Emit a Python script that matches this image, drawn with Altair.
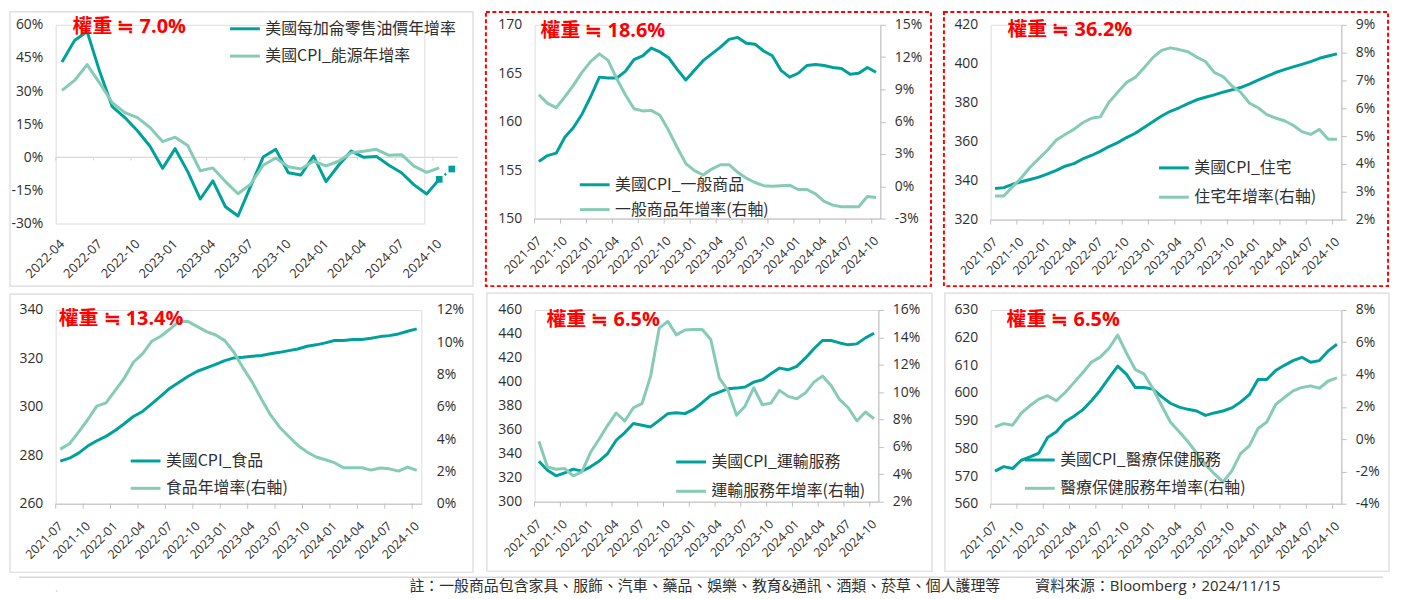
import json
import altair as alt
import pandas as pd

# ---------------- colours / fonts ----------------
DARK = "#00A19A"
LIGHT = "#86CBB6"
INK = "#2e2e2e"
RED = "#FF0000"
PANEL_LINE = "#D9D9D9"
AXIS_LINE = "#BFBFBF"
LATIN = "Open Sans, Noto Sans CJK TC"
CJK = "Noto Sans CJK TC, Open Sans"

# ---------------- data ----------------
months_gas = [p.strftime("%Y-%m") for p in pd.period_range("2022-04", "2024-11", freq="M")]
months_cpi = [p.strftime("%Y-%m") for p in pd.period_range("2021-07", "2024-10", freq="M")]

# Panel 1: gasoline retail price YoY vs CPI energy YoY (%)
gas_name = "美國每加侖零售油價年增率"
energy_name = "美國CPI_能源年增率"
gas_yoy = [43.2, 52.9, 57.0, 38.8, 22.9, 18.0, 12.0, 5.0, -5.0, 3.9, -6.5, -18.9, -10.7, -22.4,
           -26.6, -13.2, 0.1, 3.6, -7.0, -8.0, 0.6, -11.0, -3.6, 2.8, 0.0, 0.4, -3.6, -7.0,
           -12.5, -16.6, -10.0]
energy_yoy = [30.3, 34.8, 42.0, 33.6, 24.7, 20.2, 18.0, 13.5, 7.1, 9.1, 5.3, -6.1, -4.8, -11.0,
              -16.5, -12.2, -3.6, -0.3, -4.3, -5.3, -1.8, -3.9, -1.8, 2.1, 2.7, 3.6, 0.9, 1.2,
              -4.0, -6.8, -4.8]
gas_latest_months = ["2024-10", "2024-11"]
gas_latest = [-10.0, -5.3]

# Panel 2: general goods
goods_name = "美國CPI_一般商品"
goods_yoy_name = "一般商品年增率(右軸)"
goods_cpi = [155.9, 156.5, 156.75, 158.4, 159.4, 160.8, 162.6, 164.6, 164.5, 164.5, 165.2, 166.4,
             166.8, 167.6, 167.2, 166.6, 165.4, 164.3, 165.3, 166.3, 167.0, 167.7, 168.5, 168.7,
             168.1, 168.0, 167.3, 166.8, 165.3, 164.6, 165.0, 165.8, 165.9, 165.8, 165.6, 165.5,
             164.9, 165.0, 165.6, 165.1]
goods_yoy = [8.5, 7.7, 7.3, 8.3, 9.4, 10.6, 11.6, 12.3, 11.7, 10.0, 8.5, 7.2, 7.0, 7.05, 6.6, 5.2,
             3.6, 2.1, 1.45, 1.05, 1.6, 2.0, 2.0, 1.3, 0.75, 0.35, 0.05, 0.0, 0.05, 0.1, -0.3, -0.3,
             -0.7, -1.4, -1.75, -1.9, -1.9, -1.9, -0.95, -1.05]

# Panel 3: housing
house_name = "美國CPI_住宅"
house_yoy_name = "住宅年增率(右軸)"
house_cpi = [335.9, 336.4, 338.1, 339.4, 340.6, 341.8, 343.5, 345.3, 347.4, 348.7, 351.1, 352.9,
             355.0, 357.5, 359.5, 362.1, 364.3, 367.3, 370.2, 373.2, 375.6, 377.4, 379.5, 381.5,
             382.8, 384.0, 385.4, 386.6, 387.8, 389.6, 391.6, 393.5, 395.5, 397.0, 398.4, 399.7,
             401.1, 402.8, 404.0, 405.1]
house_yoy = [2.85, 2.85, 3.18, 3.5, 3.88, 4.19, 4.5, 4.86, 5.06, 5.24, 5.48, 5.64, 5.69, 6.22, 6.58,
             6.93, 7.11, 7.46, 7.82, 8.08, 8.17, 8.11, 8.03, 7.84, 7.68, 7.29, 7.14, 6.81, 6.58,
             6.19, 6.02, 5.77, 5.65, 5.55, 5.39, 5.16, 5.06, 5.24, 4.89, 4.89]

# Panel 4: food
food_name = "美國CPI_食品"
food_yoy_name = "食品年增率(右軸)"
food_cpi = [277.6, 278.8, 280.9, 283.8, 286.0, 287.8, 290.2, 293.0, 296.0, 298.1, 301.2, 304.4,
            307.7, 310.2, 312.6, 314.7, 316.1, 317.5, 319.1, 320.2, 320.5, 320.9, 321.2, 321.9,
            322.5, 323.2, 323.9, 325.0, 325.6, 326.4, 327.4, 327.4, 327.8, 327.8, 328.3, 329.0,
            329.4, 330.1, 331.2, 332.2]
food_yoy = [3.38, 3.71, 4.43, 5.2, 6.04, 6.25, 7.01, 7.77, 8.76, 9.28, 10.06, 10.37, 10.82, 11.3,
            11.28, 10.97, 10.66, 10.45, 10.1, 9.38, 8.41, 7.53, 6.49, 5.5, 4.74, 4.16, 3.61, 3.2,
            2.89, 2.72, 2.54, 2.23, 2.23, 2.23, 2.08, 2.21, 2.16, 2.02, 2.27, 2.06]

# Panel 5: transportation services
trans_name = "美國CPI_運輸服務"
trans_yoy_name = "運輸服務年增率(右軸)"
trans_cpi = [333.8, 326.3, 321.6, 324.1, 327.2, 325.5, 329.1, 333.8, 340.2, 351.3, 357.7, 365.2,
             363.8, 362.4, 367.9, 373.5, 374.3, 373.5, 377.1, 382.6, 388.7, 391.5, 394.3, 394.8,
             395.7, 399.8, 401.8, 406.8, 411.5, 410.1, 412.9, 419.8, 427.6, 434.5, 434.5, 432.5,
             430.9, 431.7, 436.7, 440.6]
trans_yoy = [6.41, 4.54, 4.37, 4.42, 3.89, 4.18, 5.59, 6.56, 7.58, 8.48, 7.89, 8.86, 9.16, 11.17,
             14.67, 15.17, 14.18, 14.54, 14.57, 14.57, 13.84, 11.02, 10.13, 8.31, 8.99, 10.32, 9.08,
             9.2, 10.13, 9.69, 9.52, 9.93, 10.73, 11.17, 10.49, 9.45, 8.86, 7.89, 8.55, 8.06]

# Panel 6: medical care services
med_name = "美國CPI_醫療保健服務"
med_yoy_name = "醫療保健服務年增率(右軸)"
med_cpi = [571.8, 573.4, 572.7, 575.7, 576.9, 578.3, 583.9, 586.0, 589.6, 591.6, 593.9, 597.2,
           601.0, 605.5, 609.7, 606.7, 602.0, 602.0, 601.4, 598.7, 596.3, 594.9, 594.1, 593.5,
           591.9, 592.8, 593.5, 594.6, 596.7, 599.4, 604.9, 604.9, 608.1, 610.0, 611.7, 612.9,
           611.1, 611.7, 615.2, 617.6]
med_yoy = [0.76, 0.96, 0.86, 1.61, 2.08, 2.48, 2.69, 2.38, 2.89, 3.5, 4.11, 4.77, 5.08, 5.63, 6.44,
           5.32, 4.31, 4.04, 3.13, 2.08, 1.06, 0.45, -0.15, -0.86, -1.57, -2.14, -2.65, -1.98, -0.9,
           -0.42, 0.66, 1.06, 2.14, 2.58, 2.99, 3.2, 3.3, 3.15, 3.6, 3.8]

weights = ["權重 ≒ 7.0%", "權重 ≒ 18.6%", "權重 ≒ 36.2%", "權重 ≒ 13.4%", "權重 ≒ 6.5%", "權重 ≒ 6.5%"]
note_text = "註：一般商品包含家具、服飾、汽車、藥品、娛樂、教育&通訊、酒類、菸草、個人護理等"
source_text = "資料來源：Bloomberg，2024/11/15"


# ---------------- helpers ----------------
def series_frame(months, values, name):
    return pd.DataFrame({"month": months[:len(values)],
                         "slot": [i + 0.5 for i in range(len(values))],
                         "value": values,
                         "series": name})


def x_enc(months, plot_w, show_line, label_pad, font_size, label_shift=0.5):
    n = len(months)
    vals = [i + label_shift for i in range(0, n, 3)]
    expr = json.dumps(months) + "[round(datum.value - %s)]" % label_shift
    return alt.X(
        "slot:Q",
        scale=alt.Scale(domain=[0, n], range=[0, plot_w], nice=False, zero=False),
        axis=alt.Axis(
            values=vals, labelExpr=expr,
            labelAngle=-45, labelAlign="right", labelBaseline="middle",
            labelFont=LATIN, labelFontSize=font_size, labelColor=INK,
            labelPadding=label_pad, labelOverlap=False, labelFlush=False,
            domain=show_line, domainColor=AXIS_LINE, domainWidth=1,
            ticks=False, tickSize=0,
            grid=False, title=None,
        ),
    )


def y_enc(domain, values, orient, pct, show_line, label_pad):
    ax = dict(orient=orient, values=values, labelFont=LATIN, labelFontSize=14, labelColor=INK,
              labelPadding=label_pad, domain=show_line, domainColor=AXIS_LINE,
              ticks=show_line, tickColor=AXIS_LINE, tickSize=5 if show_line else 0,
              grid=False, title=None, labelOverlap=False)
    if pct:
        ax["labelExpr"] = "datum.value + '%'"
    else:
        ax["format"] = "d"
    return alt.Y("value:Q", scale=alt.Scale(domain=domain, nice=False, zero=False),
                 axis=alt.Axis(**ax))


def color_enc(names, lx, ly, row_pad):
    return alt.Color(
        "series:N",
        scale=alt.Scale(domain=names, range=[DARK, LIGHT]),
        legend=alt.Legend(orient="none", legendX=lx, legendY=ly, title=None,
                          symbolType="stroke", symbolSize=900, symbolStrokeWidth=3,
                          labelFont=CJK, labelFontSize=16, labelColor=INK, labelLimit=400,
                          labelOffset=4, rowPadding=row_pad, padding=0, direction="vertical"),
    )


def frame(x0, x1, y0, y1, red):
    kw = dict(fill="white", fillOpacity=0, stroke=RED if red else PANEL_LINE,
              strokeWidth=2 if red else 1.2)
    if red:
        kw["strokeDash"] = [4, 2.5]
    return alt.Chart(alt.Data(values=[{"k": 1}])).mark_rect(**kw).encode(
        x=alt.value(x0), x2=alt.value(x1), y=alt.value(y0), y2=alt.value(y1))


def weight_label(text, x, y):
    return alt.Chart(alt.Data(values=[{"t": text}])).mark_text(
        align="left", baseline="middle", font=LATIN, fontSize=20, fontWeight="bold", color=RED
    ).encode(x=alt.value(x), y=alt.value(y), text="t:N")


def quarter_ticks(months, axis_y, x_e):
    """Small tick marks on the category axis line at every third month boundary."""
    df = pd.DataFrame({"slot": list(range(0, len(months), 3))})
    return alt.Chart(df).mark_rule(color=AXIS_LINE, strokeWidth=1).encode(
        x=x_e, y=alt.value(axis_y), y2=alt.value(axis_y + 5))


def dual_panel(months, names, dark_vals, light_vals, left_dom, left_vals, right_dom, right_vals,
               width, height, box, red, title, title_xy, leg, right_line=True):
    xe = x_enc(months, width, True, 20, 12.5)
    ce = color_enc(names, *leg)
    dark = alt.Chart(series_frame(months, dark_vals, names[0])).mark_line(
        strokeWidth=3, strokeJoin="round").encode(
        x=xe, y=y_enc(left_dom, left_vals, "left", False, False, 13), color=ce)
    light = alt.Chart(series_frame(months, light_vals, names[1])).mark_line(
        strokeWidth=3, strokeJoin="round").encode(
        x=xe, y=y_enc(right_dom, right_vals, "right", True, right_line,
                      9 if right_line else 15), color=ce)
    ticks = quarter_ticks(months, height, xe)
    return alt.layer(frame(*box, red), ticks, dark, light,
                     weight_label(title, *title_xy)).resolve_scale(
        y="independent").properties(width=width, height=height)


# ---------------- panel 1 ----------------
P1_W, P1_RANGE, P1_H = 371, 405, 200
x1 = x_enc(months_gas, P1_RANGE, False, 18, 13)
c1 = color_enc([gas_name, energy_name], 174, -12.5, 2.5)
y1 = y_enc([-30, 60], [-30, -15, 0, 15, 30, 45, 60], "left", True, False, 13)

zero_line = alt.Chart(alt.Data(values=[{"slot": 0, "slot_end": len(months_gas), "value": 0}])).mark_rule(
    color=PANEL_LINE, strokeWidth=1.2).encode(x=x1, x2="slot_end:Q", y=y1)
tick_df = pd.DataFrame({"slot": list(range(0, len(months_gas), 3)), "value": 0.0, "low": -1.4})
zero_ticks = alt.Chart(tick_df).mark_rule(color=PANEL_LINE, strokeWidth=1.2).encode(
    x=x1, y=y1, y2="low:Q")
gas_line = alt.Chart(series_frame(months_gas, gas_yoy, gas_name)).mark_line(
    strokeWidth=3, strokeJoin="round").encode(x=x1, y=y1, color=c1)
energy_line = alt.Chart(series_frame(months_gas, energy_yoy, energy_name)).mark_line(
    strokeWidth=3, strokeJoin="round").encode(x=x1, y=y1, color=c1)
latest_df = pd.DataFrame({"slot": [months_gas.index(m) + 0.5 for m in gas_latest_months],
                          "value": gas_latest})
latest_link = alt.Chart(latest_df).mark_line(color=DARK, strokeWidth=2.5, strokeDash=[2, 5]).encode(
    x=x1, y=y1)
latest_pts = alt.Chart(latest_df).mark_point(shape="square", filled=True, size=45, color=DARK,
                                             opacity=1).encode(x=x1, y=y1)
p1 = alt.layer(frame(-46, 420, -13, 263, False), zero_line, zero_ticks, gas_line, energy_line,
               latest_link, latest_pts, weight_label(weights[0], 17, 2)).properties(
    width=P1_W, height=P1_H)

# ---------------- panels 2-6 ----------------
p2 = dual_panel(months_cpi, [goods_name, goods_yoy_name], goods_cpi, goods_yoy,
                [150, 170], [150, 155, 160, 165, 170], [-3, 15], [-3, 0, 3, 6, 9, 12, 15],
                348, 195, (-49, 399, -13, 263), True, weights[1], (6, 6), (44, 144.5, 0))
p3 = dual_panel(months_cpi, [house_name, house_yoy_name], house_cpi, house_yoy,
                [320, 420], [320, 340, 360, 380, 400, 420], [2, 9], [2, 3, 4, 5, 6, 7, 8, 9],
                353, 196, (-47, 400, -13, 263), True, weights[2], (17, 5), (168, 127.5, 4.5))
p4 = dual_panel(months_cpi, [food_name, food_yoy_name], food_cpi, food_yoy,
                [260, 340], [260, 280, 300, 320, 340], [0, 12], [0, 2, 4, 6, 8, 10, 12],
                368, 195, (-46, 420, -16, 264), False, weights[3], (3, 9), (74, 135.5, 2.5),
                right_line=False)
p5 = dual_panel(months_cpi, [trans_name, trans_yoy_name], trans_cpi, trans_yoy,
                [300, 460], [300, 320, 340, 360, 380, 400, 420, 440, 460], [2, 16],
                [2, 4, 6, 8, 10, 12, 14, 16],
                346, 193, (-48, 400, -17, 263), False, weights[4], (12, 10), (141, 136.5, 4.5))
p6 = dual_panel(months_cpi, [med_name, med_yoy_name], med_cpi, med_yoy,
                [560, 630], [560, 570, 580, 590, 600, 610, 620, 630], [-4, 8],
                [-4, -2, 0, 2, 4, 6, 8],
                353, 195, (-46, 401, -17, 263), False, weights[5], (16, 10), (33, 134.5, 3.5))

# ---------------- footer ----------------
foot_rule = alt.Chart(alt.Data(values=[{"k": 1}])).mark_rule(color=PANEL_LINE, strokeWidth=1.5).encode(
    x=alt.value(-37), x2=alt.value(1336), y=alt.value(-13))
foot_note = alt.Chart(alt.Data(values=[{"t": note_text}])).mark_text(
    align="left", baseline="middle", font=CJK, fontSize=15, color=INK).encode(
    x=alt.value(356), y=alt.value(-4), text="t:N")
foot_src = alt.Chart(alt.Data(values=[{"t": source_text}])).mark_text(
    align="left", baseline="middle", font=LATIN, fontSize=15, color=INK).encode(
    x=alt.value(986), y=alt.value(-4), text="t:N")
footer = alt.layer(foot_rule, foot_note, foot_src).properties(width=1, height=1)

chart = alt.concat(
    p1, p2, p3, p4, p5, p6, footer,
    columns=3, spacing={"row": 87, "column": 111}, bounds="flush", align="each",
    padding={"left": 0, "top": 0, "right": 4, "bottom": 4},
).resolve_scale(color="independent").resolve_legend(color="independent").configure_view(
    strokeWidth=0).configure(background="white")

chart.save("out.html", embed_options={"renderer": "svg", "actions": False})
